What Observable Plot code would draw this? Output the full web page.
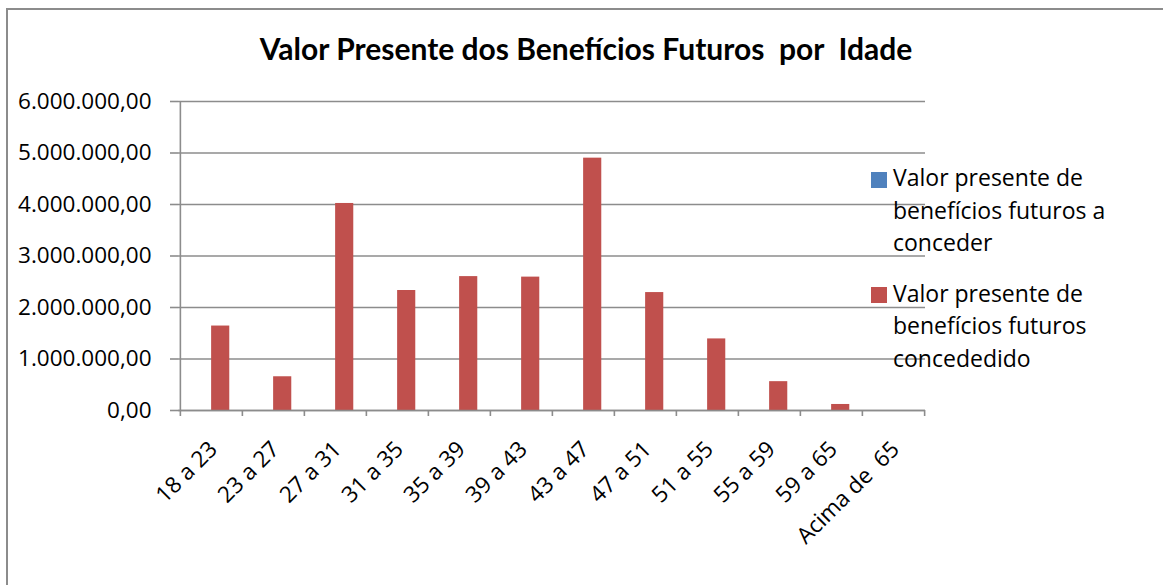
<!DOCTYPE html>
<html>
<head>
<meta charset="utf-8">
<script src="https://cdn.jsdelivr.net/npm/d3@7"></script>
<script src="https://cdn.jsdelivr.net/npm/@observablehq/plot@0.6"></script>
<style>
  html, body { margin: 0; padding: 0; background: #fff; }
  #wrap { position: relative; width: 1163px; height: 585px; overflow: hidden; font-family: "Open Sans", Lato, sans-serif; color: #000; }
  #frame { position: absolute; left: 6px; top: 8px; width: 1200px; height: 650px; border: 2px solid #8c8c8c; box-sizing: border-box; }
  #title { position: absolute; left: 0; width: 1172px; top: 32.5px; text-align: center; font-family: Lato, sans-serif; font-weight: bold; font-size: 30px; line-height: 1; white-space: pre; }
  #chart { position: absolute; left: 0; top: 0; }
  #legend { position: absolute; left: 871px; top: 161px; }
  .entry { position: relative; padding-left: 22px; width: 250px; font-size: 23px; line-height: 32.7px; margin-bottom: 17.5px; }
  .sw { position: absolute; left: 0; top: 10.5px; width: 16px; height: 16px; }
</style>
</head>
<body>
<div id="wrap">
  <div id="frame"></div>
  <div id="title"></div>
  <div id="chart"></div>
  <div id="legend"></div>
</div>
<script>
const titleText = "Valor Presente dos Benefícios Futuros  por  Idade";
const categories = ["18 a 23", "23 a 27", "27 a 31", "31 a 35", "35 a 39", "39 a 43", "43 a 47", "47 a 51", "51 a 55", "55 a 59", "59 a 65", "Acima de  65"];
const seriesNames = ["Valor presente de benefícios futuros a conceder", "Valor presente de benefícios futuros concededido"];
const aConceder = [0, 0, 0, 0, 0, 0, 0, 0, 0, 0, 0, 0];
const concedido = [1640000, 655000, 4020000, 2330000, 2600000, 2590000, 4900000, 2290000, 1390000, 560000, 117000, 0];
const yTicks = [0, 1000000, 2000000, 3000000, 4000000, 5000000, 6000000];
const colors = ["#4F81BD", "#C0504D"];

const table = categories.map((c, i) => ({cat: c, a: aConceder[i], b: concedido[i]}));

const fmtLocale = d3.formatLocale({decimal: ",", thousands: ".", grouping: [3], currency: ["", ""]});
const fmt = fmtLocale.format(",.2f");

const W = 1163, H = 585, ML = 178, MR = 238, MT = 101, MB = 175;
const bw = (W - ML - MR) / categories.length;
const barW = 18.4;
const outer = bw / 2 - barW;
const font = '"Open Sans", Lato, sans-serif';

document.getElementById("title").textContent = titleText;

const chart = Plot.plot({
  width: W, height: H,
  marginLeft: ML, marginRight: MR, marginTop: MT, marginBottom: MB,
  x: {type: "band", domain: categories, padding: 0},
  y: {domain: [0, 6000000]},
  style: {fontFamily: font, fontSize: "22.5px", color: "#000", background: "transparent", overflow: "visible"},
  marks: [
    Plot.gridY(yTicks, {stroke: "#8c8c8c", strokeOpacity: 1, strokeWidth: 1.6}),
    Plot.barY(table, {x: "cat", y: "a", fill: colors[0], insetLeft: outer, insetRight: bw / 2}),
    Plot.barY(table, {x: "cat", y: "b", fill: colors[1], insetLeft: bw / 2, insetRight: outer}),
    Plot.ruleY([0], {stroke: "#8c8c8c", strokeWidth: 1.6}),
    Plot.ruleX([categories[0]], {dx: -bw / 2, y1: 0, y2: 6000000, stroke: "#8c8c8c", strokeWidth: 1.6}),
    Plot.axisX(categories, {tickSize: 6, dx: -bw / 2, tickFormat: () => "", stroke: "#8c8c8c", strokeWidth: 1.6, label: null}),
    Plot.axisX([categories[categories.length - 1]], {tickSize: 6, dx: bw / 2, tickFormat: () => "", stroke: "#8c8c8c", strokeWidth: 1.6, label: null}),
    Plot.axisX(categories, {tickSize: 0, tickRotate: -45, tickPadding: 35, dx: 2, fill: "#000", fontSize: 22.5, label: null}),
    Plot.axisY(yTicks, {tickSize: 8, tickPadding: 19, tickFormat: fmt, stroke: "#8c8c8c", strokeWidth: 1.6, fill: "#000", fontSize: 22.5, label: null})
  ]
});
document.getElementById("chart").appendChild(chart);

const legend = d3.select("#legend");
seriesNames.forEach((name, i) => {
  const e = legend.append("div").attr("class", "entry");
  e.append("div").attr("class", "sw").style("background", colors[i]);
  e.append("span").text(name);
});
</script>
</body>
</html>
